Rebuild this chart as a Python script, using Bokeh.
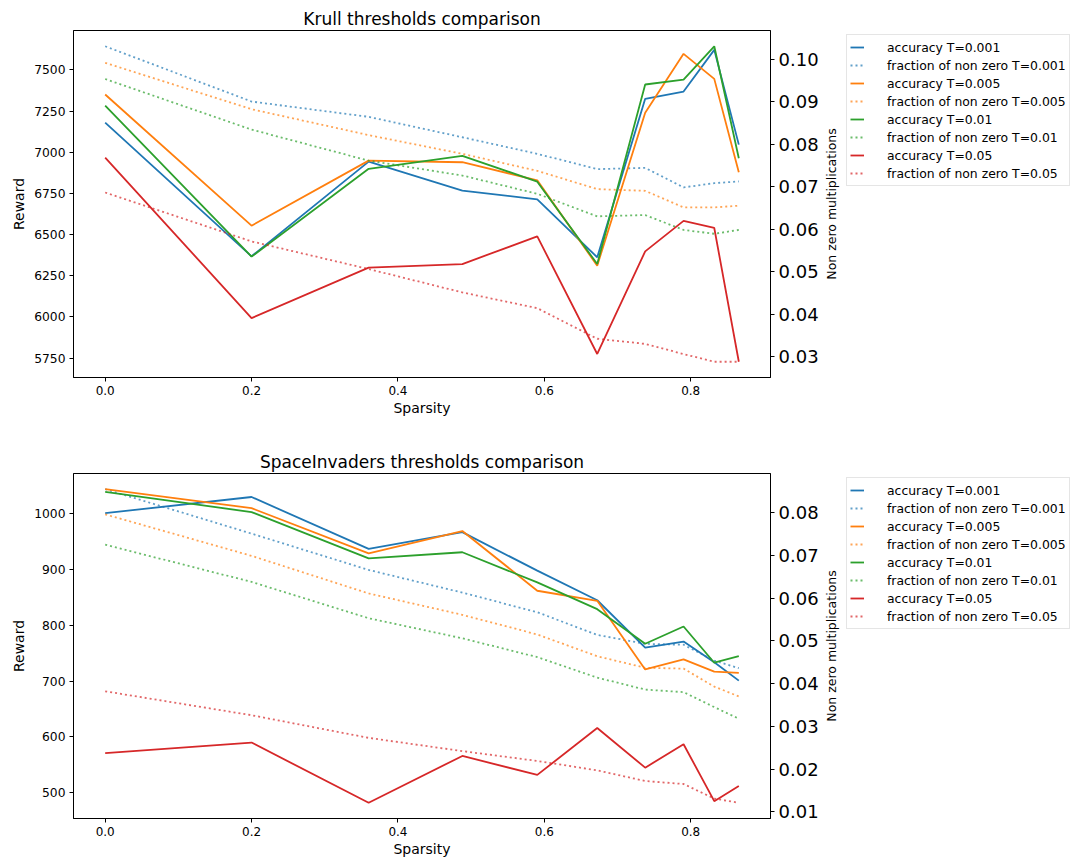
import math
import numpy as np
from bokeh.plotting import figure
from bokeh.models import (Range1d, LinearAxis, FixedTicker, PrintfTickFormatter,
                          Legend, LegendItem, Label)
from bokeh.layouts import column, row
from bokeh.embed import file_html
from bokeh.resources import INLINE

FONT = "DejaVu Sans"

sparsity = [0.0, 0.2, 0.36, 0.488, 0.5904, 0.67232, 0.737856, 0.790285, 0.832228, 0.865782]
thresholds = ["0.001", "0.005", "0.01", "0.05"]
colors = ["#1f77b4", "#ff7f0e", "#2ca02c", "#d62728"]
x_ticks = [0.0, 0.2, 0.4, 0.6, 0.8]

# Krull
krull_acc_T0001 = [7180, 6368, 6943, 6767, 6714, 6362, 7324, 7368, 7621, 7046]
krull_acc_T0005 = [7350, 6554, 6949, 6939, 6829, 6311, 7239, 7597, 7445, 6878]
krull_acc_T001 = [7283, 6366, 6899, 6978, 6821, 6321, 7411, 7441, 7643, 6963]
krull_acc_T005 = [6967, 5993, 6299, 6321, 6489, 5775, 6398, 6583, 6540, 5728]
krull_frac_T0001 = [0.1030, 0.0900, 0.0864, 0.0816, 0.0777, 0.0741, 0.0744, 0.0698, 0.0708, 0.0712]
krull_frac_T0005 = [0.0991, 0.0882, 0.0821, 0.0777, 0.0737, 0.0694, 0.0690, 0.0651, 0.0651, 0.0655]
krull_frac_T001 = [0.0953, 0.0834, 0.0761, 0.0726, 0.0683, 0.0630, 0.0633, 0.0598, 0.0589, 0.0598]
krull_frac_T005 = [0.0686, 0.0571, 0.0506, 0.0451, 0.0414, 0.0342, 0.0330, 0.0306, 0.0288, 0.0288]
krull_left_ticks = [5750, 6000, 6250, 6500, 6750, 7000, 7250, 7500]
krull_right_ticks = [0.03, 0.04, 0.05, 0.06, 0.07, 0.08, 0.09, 0.10]

# SpaceInvaders
si_acc_T0001 = [1001, 1030, 937, 967, 898, 845, 760, 771, 734, 701]
si_acc_T0005 = [1044, 1010, 929, 969, 862, 844, 721, 739, 717, 715]
si_acc_T001 = [1039, 1003, 920, 931, 877, 829, 767, 798, 733, 745]
si_acc_T005 = [571, 590, 482, 566, 532, 616, 545, 587, 485, 512]
si_frac_T0001 = [0.0855, 0.0751, 0.0666, 0.0613, 0.0567, 0.0514, 0.0493, 0.0491, 0.0454, 0.0436]
si_frac_T0005 = [0.0796, 0.0699, 0.0611, 0.0561, 0.0515, 0.0464, 0.0437, 0.0435, 0.0393, 0.0370]
si_frac_T001 = [0.0725, 0.0638, 0.0553, 0.0506, 0.0462, 0.0414, 0.0386, 0.0380, 0.0345, 0.0318]
si_frac_T005 = [0.0382, 0.0326, 0.0273, 0.0242, 0.0219, 0.0197, 0.0172, 0.0165, 0.0131, 0.0121]
si_left_ticks = [500, 600, 700, 800, 900, 1000]
si_right_ticks = [0.01, 0.02, 0.03, 0.04, 0.05, 0.06, 0.07, 0.08]

FRAME_W = 697
LEFT_B = 73
TOP_B = 30
RIGHT_B = 53          # main figure ends at 823 px
SIDE_W = 254          # side figure (right-axis title + legend)
LEG_H = 150
SOLID_W = 1.8


def padded(values):
    lo, hi = min(values), max(values)
    m = (hi - lo) * 0.05
    return Range1d(lo - m, hi + m)


def style_axis(ax, tick_size, label_size):
    ax.axis_line_color = "black"
    ax.major_tick_line_color = "black"
    ax.major_tick_in = 0
    ax.major_tick_out = 4
    ax.minor_tick_line_color = None
    ax.major_label_text_font = FONT
    ax.major_label_text_font_size = tick_size
    ax.major_label_text_color = "black"
    ax.axis_label_text_font = FONT
    ax.axis_label_text_font_size = label_size
    ax.axis_label_text_font_style = "normal"
    ax.axis_label_text_color = "black"
    ax.major_label_standoff = 4
    ax.axis_label_standoff = 4


def build(title, accs, fracs, left_ticks, right_ticks, frame_h, border_bottom):
    all_acc = [v for s in accs for v in s]
    all_frac = [v for s in fracs for v in s]
    total_h = TOP_B + frame_h + border_bottom
    p = figure(frame_width=FRAME_W, frame_height=frame_h,
               min_border_left=LEFT_B, min_border_top=TOP_B, min_border_bottom=border_bottom,
               min_border_right=RIGHT_B,
               x_range=padded(sparsity), y_range=padded(all_acc),
               output_backend="svg", toolbar_location=None, title=title)
    p.extra_y_ranges = {"frac": padded(all_frac)}
    p.xgrid.visible = False
    p.ygrid.visible = False
    p.outline_line_color = "black"
    p.outline_line_alpha = 1
    p.background_fill_color = "white"
    p.border_fill_color = "white"
    p.title.text_font = FONT
    p.title.text_font_size = "17px"
    p.title.text_font_style = "normal"
    p.title.text_color = "black"
    p.title.align = "center"
    p.title.standoff = 4

    xa = p.xaxis[0]
    style_axis(xa, "12px", "14px")
    xa.ticker = FixedTicker(ticks=x_ticks)
    xa.formatter = PrintfTickFormatter(format="%.1f")
    xa.axis_label = "Sparsity"
    xa.axis_label_standoff = 2

    ya = p.yaxis[0]
    style_axis(ya, "12.3px", "14px")
    ya.ticker = FixedTicker(ticks=left_ticks)
    ya.axis_label = "Reward"

    ra = LinearAxis(y_range_name="frac")
    style_axis(ra, "18px", "12.5px")
    ra.ticker = FixedTicker(ticks=right_ticks)
    ra.formatter = PrintfTickFormatter(format="%.2f")
    p.add_layout(ra, "right")

    # side figure: right-axis title and legend, outside the plot box.
    # Its frame is aligned with the main frame by the row layout.
    s = figure(width=SIDE_W, height=total_h, x_range=Range1d(0, SIDE_W),
               y_range=Range1d(0, frame_h), min_border=0,
               x_axis_type=None, y_axis_type=None,
               output_backend="svg", toolbar_location=None)
    s.xgrid.visible = False
    s.ygrid.visible = False
    s.outline_line_color = None
    s.background_fill_color = "white"
    s.border_fill_color = "white"

    s.add_layout(Label(x=8, y=frame_h / 2, x_units="screen", y_units="screen",
                       text="Non zero multiplications", angle=math.pi / 2,
                       text_align="center", text_baseline="middle",
                       text_font=FONT, text_font_size="12.5px", text_color="black"))

    nan = np.array([np.nan])
    items = []
    for t, c, a, f in zip(thresholds, colors, accs, fracs):
        p.line(sparsity, a, line_color=c, line_width=SOLID_W)
        p.line(sparsity, f, y_range_name="frac", line_color=c, line_width=SOLID_W,
               line_dash="2 3", line_alpha=0.7)
        # legend swatches (no data)
        k1 = s.line(nan, nan, line_color=c, line_width=SOLID_W)
        k2 = s.line(nan, nan, line_color=c, line_width=SOLID_W, line_dash="2 3", line_alpha=0.7)
        items.append(LegendItem(label="accuracy T=" + t, renderers=[k1]))
        items.append(LegendItem(label="fraction of non zero T=" + t, renderers=[k2]))

    leg = Legend(items=items, location=(23, frame_h - 6 - LEG_H))
    leg.label_text_font = FONT
    leg.label_text_font_size = "12.4px"
    leg.label_text_color = "black"
    leg.label_height = 18
    leg.glyph_height = 18
    leg.glyph_width = 14
    leg.label_standoff = 23
    leg.spacing = 0
    leg.padding = 3
    leg.margin = 0
    leg.border_line_color = "#cccccc"
    leg.border_line_width = 1
    leg.background_fill_alpha = 1
    s.add_layout(leg, "center")
    return row(p, s, spacing=0)


r1 = build("Krull thresholds comparison",
           [krull_acc_T0001, krull_acc_T0005, krull_acc_T001, krull_acc_T005],
           [krull_frac_T0001, krull_frac_T0005, krull_frac_T001, krull_frac_T005],
           krull_left_ticks, krull_right_ticks, 347, 66)
r2 = build("SpaceInvaders thresholds comparison",
           [si_acc_T0001, si_acc_T0005, si_acc_T001, si_acc_T005],
           [si_frac_T0001, si_frac_T0005, si_frac_T001, si_frac_T005],
           si_left_ticks, si_right_ticks, 345, 42)

layout = column(r1, r2, spacing=0)
open("out.html", "w").write(file_html(layout, INLINE))
